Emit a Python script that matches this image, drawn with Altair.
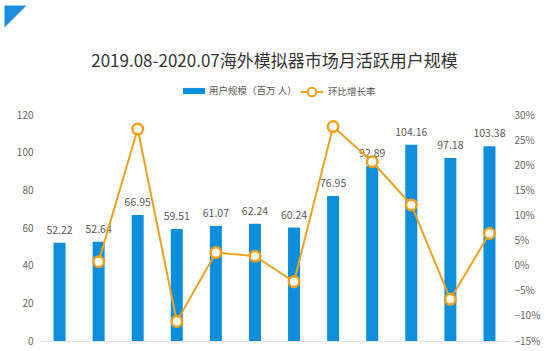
import altair as alt
import pandas as pd

months = ["2019.08", "2019.09", "2019.10", "2019.11", "2019.12", "2020.01",
          "2020.02", "2020.03", "2020.04", "2020.05", "2020.06", "2020.07"]
users = [52.22, 52.64, 66.95, 59.51, 61.07, 62.24, 60.24, 76.95, 92.89, 104.16, 97.18, 103.38]
growth = [None, 0.008, 0.272, -0.111, 0.026, 0.019, -0.032, 0.277, 0.207, 0.121, -0.067, 0.064]
left_ticks = [0, 20, 40, 60, 80, 100, 120]
right_ticks = [-0.15, -0.10, -0.05, 0.0, 0.05, 0.10, 0.15, 0.20, 0.25, 0.30]

bar_name = "用户规模（百万 人）"
line_name = "环比增长率"
title_text = "2019.08-2020.07海外模拟器市场月活跃用户规模"

df = pd.DataFrame({"month": months, "users": users, "growth": growth,
                   "bar_s": bar_name, "line_s": line_name})

FONT = "Noto Sans CJK SC"
BLUE = "#0E8FDB"
ORANGE = "#EFA11B"

x = alt.X("month:N", sort=months,
          scale=alt.Scale(paddingInner=0, paddingOuter=0),
          axis=alt.Axis(title=None, labels=False, ticks=False, grid=False,
                        domainColor="#e3e3e3", domainWidth=1))

yscale_l = alt.Scale(domain=[0, 120], nice=False, zero=True)
yscale_r = alt.Scale(domain=[-0.15, 0.30], nice=False, zero=False)

bars = alt.Chart(df).mark_bar(size=12).encode(
    x=x,
    y=alt.Y("users:Q", scale=yscale_l,
            axis=alt.Axis(title=None, values=left_ticks, domain=False, ticks=False,
                          grid=False, labelPadding=7, labelFontSize=10,
                          labelColor="#666", labelFont=FONT)),
    color=alt.Color("bar_s:N", scale=alt.Scale(domain=[bar_name], range=[BLUE]),
                    legend=alt.Legend(title=None, orient="none", legendX=143, legendY=-35,
                                      symbolType="M-1,-0.28H1V0.28H-1Z", symbolSize=484,
                                      symbolStrokeWidth=0, labelFont=FONT, labelFontSize=9.5,
                                      labelColor="#555", labelOffset=4, padding=0)),
)

labels = alt.Chart(df).mark_text(dy=-9, baseline="alphabetic", fontSize=10.5,
                                 color="#595959", font=FONT).encode(
    x=x,
    y=alt.Y("users:Q", scale=yscale_l, axis=None),
    text=alt.Text("users:Q", format=".2f"),
)

line = alt.Chart(df).mark_line(strokeWidth=2).encode(
    x=x,
    y=alt.Y("growth:Q", scale=yscale_r,
            axis=alt.Axis(title=None, orient="right", values=right_ticks, format=".0%",
                          domain=False, ticks=False, grid=False, labelPadding=5,
                          labelFontSize=10, labelColor="#666", labelFont=FONT)),
    stroke=alt.Stroke("line_s:N", scale=alt.Scale(domain=[line_name], range=[ORANGE]),
                      legend=alt.Legend(title=None, orient="none", legendX=260, legendY=-35,
                                        symbolType="M-1,0H-0.38M0.38,0H1M0.38,0A0.38,0.38 0 1 1 -0.38,0A0.38,0.38 0 1 1 0.38,0",
                                        symbolSize=484, symbolStrokeWidth=2,
                                        symbolFillColor="white", labelFont=FONT,
                                        labelFontSize=9.5, labelColor="#555",
                                        labelOffset=4, padding=0)),
)

points = alt.Chart(df).mark_circle(fill="white", stroke=ORANGE, strokeWidth=2.5,
                                   size=110, opacity=1).encode(
    x=x,
    y=alt.Y("growth:Q", scale=yscale_r, axis=None),
)

logo = alt.Chart(pd.DataFrame({"k": [0]})).mark_point(
    shape="M-1,-1L1,-1L-1,1Z", filled=True, fill="#1A8FDC", size=484,
    strokeWidth=0, opacity=1).encode(x=alt.value(-24.5), y=alt.value(-98.5))

chart = alt.layer(bars, labels, line, points, logo).resolve_scale(
    y="independent", color="independent", stroke="independent"
).properties(
    width=469, height=226,
    padding={"left": 40, "top": 115, "right": 41, "bottom": 10},
    autosize=alt.AutoSizeParams(type="none"),
    title=alt.TitleParams(title_text, fontSize=17, font=FONT, color="#333",
                          fontWeight="normal", anchor="middle", offset=-65),
).configure_view(stroke=None)

chart.save("out.html", embed_options={"renderer": "svg", "actions": False})
